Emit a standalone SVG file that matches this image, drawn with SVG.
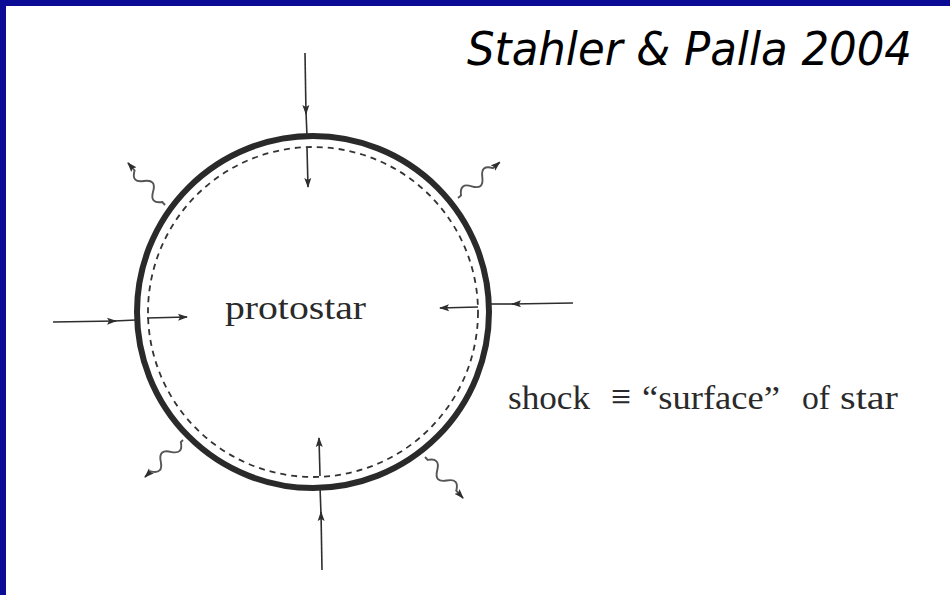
<svg xmlns="http://www.w3.org/2000/svg" width="950" height="595" viewBox="0 0 950 595">
<style>
.ln{stroke:#2e2e2e;stroke-width:1.6;fill:none}
.wv{stroke:#555;stroke-width:1.9;fill:none;marker-end:url(#ah)}
.lab{font-family:"Liberation Serif","Times New Roman",serif;fill:#2a2a2a}
</style>
<defs>
<marker id="ah" viewBox="0 0 10 8" refX="9" refY="4" markerWidth="10" markerHeight="8" markerUnits="userSpaceOnUse" orient="auto">
<path d="M0,0.5 L10,4 L0,7.5 L2,4 Z" fill="#2e2e2e"/>
</marker>
</defs>
<rect x="0" y="0" width="950" height="595" fill="#ffffff"/>
<rect x="0" y="0" width="950" height="6" fill="#0b0b95"/>
<rect x="0" y="0" width="6" height="595" fill="#0b0b95"/>
<text x="467" y="65" font-family="'DejaVu Sans Condensed','DejaVu Sans',Verdana,sans-serif" font-style="italic" font-size="47" fill="#000" textLength="445" lengthAdjust="spacingAndGlyphs">Stahler &amp; Palla 2004</text>
<g id="star">
<circle cx="313" cy="312" r="176" fill="none" stroke="#2a2a2a" stroke-width="6"/>
<circle cx="313" cy="312" r="165" fill="none" stroke="#333" stroke-width="1.8" stroke-dasharray="6 5"/>
<text class="lab" x="225" y="319" font-size="33" textLength="141" lengthAdjust="spacingAndGlyphs">protostar</text>
</g>
<g id="connectors">
<path class="ln" d="M305,53 L306,114" marker-end="url(#ah)"/><path class="ln" d="M306,112 L307,136"/>
<path class="ln" d="M307,148 L308,187" marker-end="url(#ah)"/>
<path class="ln" d="M322,570 L321,512" marker-end="url(#ah)"/><path class="ln" d="M321,514 L320,487"/>
<path class="ln" d="M320,476 L319,438" marker-end="url(#ah)"/>
<path class="ln" d="M53,322 L116,321" marker-end="url(#ah)"/><path class="ln" d="M114,321 L136,320"/>
<path class="ln" d="M147,318 L187,317" marker-end="url(#ah)"/>
<path class="ln" d="M573,303 L512,304" marker-end="url(#ah)"/><path class="ln" d="M514,304 L490,304"/>
<path class="ln" d="M478,307 L440,308" marker-end="url(#ah)"/>
<path class="wv" transform="translate(165,205) rotate(-131.4)" d="M0,0 l4,0 q7,-11 14,0 t14,0 t14,0 l10,0"/>
<path class="wv" transform="translate(458,198) rotate(-40.6)" d="M0,0 l4,0 q7,-11 14,0 t14,0 t14,0 l9,0"/>
<path class="wv" transform="translate(183,440) rotate(135.8)" d="M0,0 l3,0 q7,-11 14,0 t14,0 t14,0 l8,0"/>
<path class="wv" transform="translate(425,457) rotate(47.2)" d="M0,0 l4,0 q7,-11 14,0 t14,0 t14,0 l10,0"/>
</g>
<g id="caption">
<text class="lab" y="409" font-size="33"><tspan x="508" textLength="82" lengthAdjust="spacingAndGlyphs">shock</tspan><tspan x="611" y="410" font-size="40" textLength="20" lengthAdjust="spacingAndGlyphs">≡</tspan><tspan x="642" y="409" textLength="138" lengthAdjust="spacingAndGlyphs">“surface”</tspan><tspan x="802" textLength="28" lengthAdjust="spacingAndGlyphs">of</tspan><tspan x="840" textLength="58" lengthAdjust="spacingAndGlyphs">star</tspan></text>
</g>
</svg>
